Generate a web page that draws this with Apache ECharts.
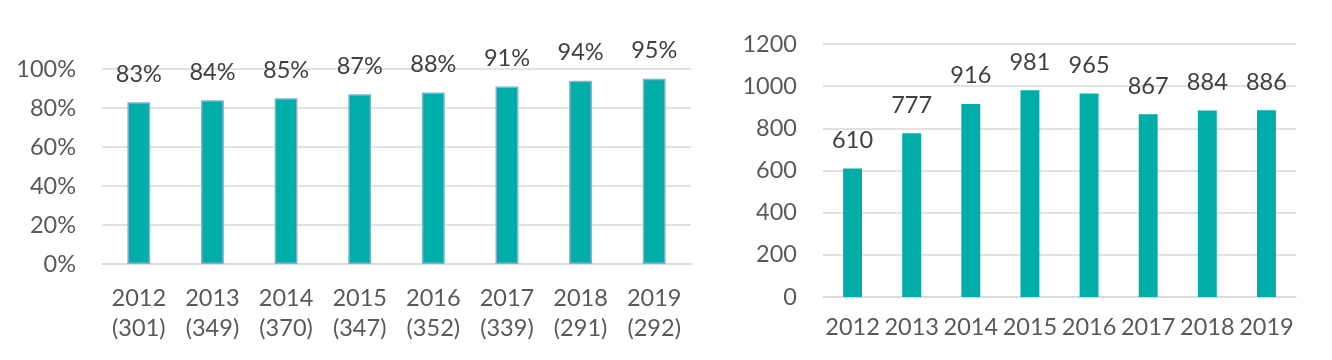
<!DOCTYPE html>
<html>
<head>
<meta charset="utf-8">
<script src="https://cdn.jsdelivr.net/npm/echarts@6/dist/echarts.min.js"></script>
<style>
html,body{margin:0;padding:0;background:#fff;}
#c{width:1332px;height:360px;}
</style>
</head>
<body>
<div id="c"></div>
<script>
const years = ['2012','2013','2014','2015','2016','2017','2018','2019'];
const counts = ['301','349','370','347','352','339','291','292'];
const pctValues = [83, 84, 85, 87, 88, 91, 94, 95];
const totalValues = [610, 777, 916, 981, 965, 867, 884, 886];

const FONT = 'Lato';
const FS = 23.5;
const AXIS_COLOR = '#595959';
const LABEL_COLOR = '#404040';
const GRID_COLOR = '#D9D9D9';
const BAR_COLOR = '#00ADA8';

const leftCats = years.map((y, i) => y + '\n(' + counts[i] + ')');

const chart = echarts.init(document.getElementById('c'), null, {renderer: 'canvas'});
chart.setOption({
  animation: false,
  backgroundColor: '#fff',
  grid: [
    {left: 102, right: 641, top: 69, bottom: 96},
    {left: 823, right: 36, top: 44, bottom: 63}
  ],
  xAxis: [
    {
      type: 'category', gridIndex: 0, data: leftCats,
      axisLine: {lineStyle: {color: GRID_COLOR, width: 1.5}},
      axisTick: {show: false},
      axisLabel: {interval: 0, color: AXIS_COLOR, fontFamily: FONT, fontSize: FS, lineHeight: 30, margin: 19}
    },
    {
      type: 'category', gridIndex: 1, data: years,
      axisLine: {lineStyle: {color: GRID_COLOR, width: 1.5}},
      axisTick: {show: false},
      axisLabel: {interval: 0, color: AXIS_COLOR, fontFamily: FONT, fontSize: FS, lineHeight: 24, margin: 18}
    }
  ],
  yAxis: [
    {
      type: 'value', gridIndex: 0, min: 0, max: 100, interval: 20,
      axisLine: {show: false}, axisTick: {show: false},
      splitLine: {lineStyle: {color: GRID_COLOR, width: 1.5}},
      axisLabel: {color: AXIS_COLOR, fontFamily: FONT, fontSize: FS, margin: 26, formatter: '{value}%'}
    },
    {
      type: 'value', gridIndex: 1, min: 0, max: 1200, interval: 200,
      axisLine: {show: false}, axisTick: {show: false},
      splitLine: {lineStyle: {color: GRID_COLOR, width: 1.5}},
      axisLabel: {color: AXIS_COLOR, fontFamily: FONT, fontSize: FS, margin: 26, formatter: v => String(v)}
    }
  ],
  series: [
    {
      type: 'bar', xAxisIndex: 0, yAxisIndex: 0, data: pctValues,
      barWidth: '31%',
      itemStyle: {color: BAR_COLOR, borderColor: '#7FB2D2', borderWidth: 1.5},
      label: {show: true, position: 'top', distance: 16, color: LABEL_COLOR, fontFamily: FONT, fontSize: FS, formatter: '{c}%'}
    },
    {
      type: 'bar', xAxisIndex: 1, yAxisIndex: 1, data: totalValues,
      barWidth: '32%',
      itemStyle: {color: BAR_COLOR},
      label: {show: true, position: 'top', distance: 16, color: LABEL_COLOR, fontFamily: FONT, fontSize: FS}
    }
  ]
});
</script>
</body>
</html>
